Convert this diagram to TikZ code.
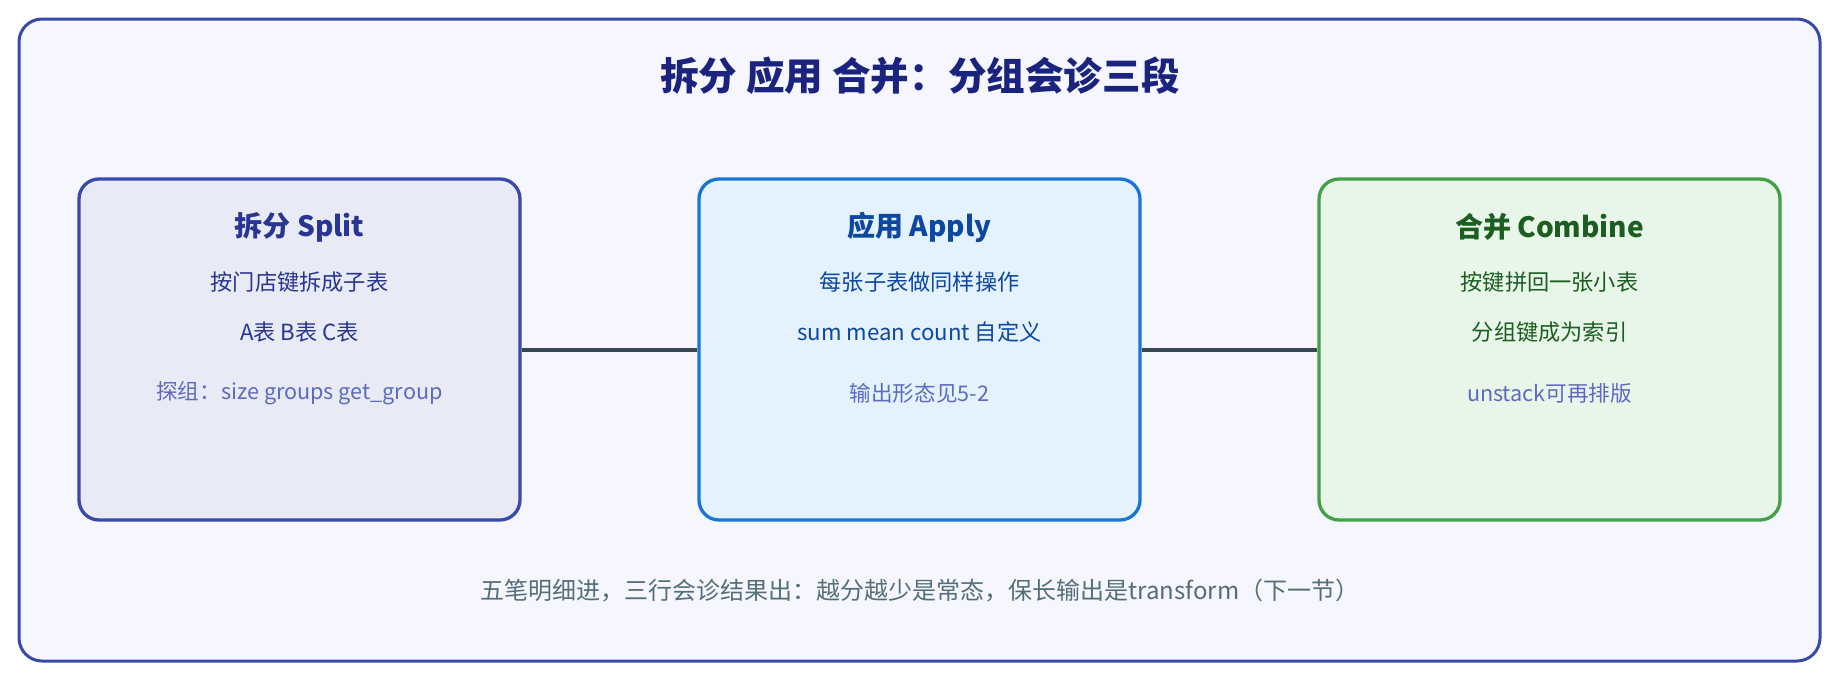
\documentclass[tikz,border=0pt]{standalone}
\usepackage{fontspec}
\setmainfont{Noto Sans CJK SC}
\usepackage{tikz}
\usetikzlibrary{positioning,backgrounds}

\definecolor{pagebg}{HTML}{F5F6FE}
\definecolor{framec}{HTML}{3949AB}
\definecolor{headc}{HTML}{1A237E}
\definecolor{splitbg}{HTML}{E8EAF6}
\definecolor{splitc}{HTML}{3949AB}
\definecolor{splitt}{HTML}{283593}
\definecolor{applybg}{HTML}{E3F2FD}
\definecolor{applyc}{HTML}{1976D2}
\definecolor{applyt}{HTML}{0D47A1}
\definecolor{combbg}{HTML}{E8F5E9}
\definecolor{combc}{HTML}{43A047}
\definecolor{combt}{HTML}{1B5E20}
\definecolor{notec}{HTML}{5C6BC0}
\definecolor{footc}{HTML}{546E7A}
\definecolor{linkc}{HTML}{37474F}

\tikzset{
  stage/.style={draw, line width=1.65pt, rounded corners=10pt, minimum height=170.5pt, inner sep=0pt},
  stitle/.style={font=\fontsize{14}{16}\selectfont\bfseries},
  sline/.style={font=\fontsize{11.1}{13}\selectfont},
  snote/.style={font=\fontsize{10.8}{12}\selectfont, text=notec},
  link/.style={draw=linkc, line width=2pt},
}

\begin{document}
\begin{tikzpicture}[x=0.5pt,y=-0.5pt]
\useasboundingbox (0,0) rectangle (1840,680);
\draw[draw=framec, fill=pagebg, line width=1.5pt, rounded corners=11.5pt] (19,19) rectangle (1820,661);
\node[font=\fontsize{19.3}{22}\selectfont\bfseries, text=headc] (head) at (920,76) {拆分 应用 合并：分组会诊三段};

% three stages
\node[stage, draw=splitc, fill=splitbg, minimum width=220.5pt] (split) at (299.5,349.5) {};
\node[stage, draw=applyc, fill=applybg, minimum width=220.5pt] (apply) at (919.5,349.5) {};
\node[stage, draw=combc, fill=combbg, minimum width=230.5pt] (comb) at (1549.5,349.5) {};

\draw[link] (split.east) -- (apply.west);
\draw[link] (apply.east) -- (comb.west);

\node[stitle, text=splitt] (splitT) at (299.5,227) {拆分 Split};
\node[sline, text=splitt] (splitA) at (299.5,282) {按门店键拆成子表};
\node[sline, text=splitt] (splitB) at (299.5,332) {A表 B表 C表};
\node[snote] (splitN) at (299.5,393) {探组：size groups get\_group};

\node[stitle, text=applyt] (applyT) at (919.5,227) {应用 Apply};
\node[sline, text=applyt] (applyA) at (919.5,282) {每张子表做同样操作};
\node[sline, text=applyt] (applyB) at (919.5,332) {sum mean count 自定义};
\node[snote] (applyN) at (919.5,393) {输出形态见5-2};

\node[stitle, text=combt] (combT) at (1549.5,227) {合并 Combine};
\node[sline, text=combt] (combA) at (1549.5,282) {按键拼回一张小表};
\node[sline, text=combt] (combB) at (1549.5,332) {分组键成为索引};
\node[snote] (combN) at (1549.5,393) {unstack可再排版};

\node[font=\fontsize{12}{14}\selectfont, text=footc] (foot) at (920,591) {五笔明细进，三行会诊结果出：越分越少是常态，保长输出是transform（下一节）};
\end{tikzpicture}
\end{document}
